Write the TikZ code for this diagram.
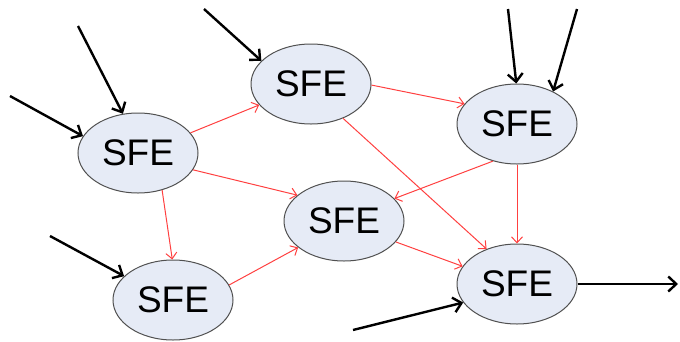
\documentclass[tikz,border=0pt]{standalone}
\usepackage{fontspec}
\setmainfont{Liberation Sans}
\usetikzlibrary{shapes.geometric,arrows.meta}
\definecolor{sfefill}{HTML}{E6EBF6}
\definecolor{sfeline}{HTML}{505050}
\definecolor{flow}{HTML}{FF4040}
\begin{document}
\begin{tikzpicture}[x=1pt,y=-1pt,
  sfe/.style={ellipse,draw=sfeline,line width=1pt,fill=sfefill,
    minimum width=120pt,minimum height=80pt,inner sep=0pt,
    font=\fontsize{37}{42}\selectfont},
  redarrow/.style={draw=flow,line width=1pt,-{Straight Barb[length=6pt,width=11pt,line width=1pt]}},
  blackarrow/.style={draw=black,line width=2.4pt,-{Straight Barb[length=8pt,width=15pt,line width=2.4pt]}}]
\useasboundingbox (0,0) rectangle (680,341);
\node[sfe] (n1) at (138,153) {SFE};
\node[sfe] (n2) at (311,84) {SFE};
\node[sfe] (n3) at (517,124) {SFE};
\node[sfe] (n4) at (344,221) {SFE};
\node[sfe] (n5) at (173,300) {SFE};
\node[sfe] (n6) at (517,284) {SFE};
% red connectors
\draw[redarrow] (n1.21) -- (n2.202);
\draw[redarrow] (n1.-17) -- (n4.151);
\draw[redarrow] (n1.-57) -- (n5.91);
\draw[redarrow] (n5.15) -- (n4.210);
\draw[redarrow] (n2.-1) -- (n3.159);
\draw[redarrow] (n2.-47) -- (n6.131);
\draw[redarrow] (n3.-123) -- (n4.24);
\draw[redarrow] (n3.-90) -- (n6.90);
\draw[redarrow] (n4.-22) -- (n6.162);
% black inputs / output
\coordinate (a) at (10,96);
\coordinate (b) at (78,26);
\coordinate (c) at (204,9);
\coordinate (d) at (508,9);
\coordinate (e) at (577,9);
\coordinate (f) at (50,236);
\coordinate (g) at (353,330);
\coordinate (h) at (678,284);
\draw[blackarrow] (a) -- (n1.163);
\draw[blackarrow] (b) -- (n1.111);
\draw[blackarrow] (c) -- (n2.155);
\draw[blackarrow] (d) -- (n3.91);
\draw[blackarrow] (e) -- (n3.42);
\draw[blackarrow] (f) -- (n5.154);
\draw[blackarrow] (g) -- (n6.199);
\draw[blackarrow] (n6.0) -- (h);
\end{tikzpicture}
\end{document}
